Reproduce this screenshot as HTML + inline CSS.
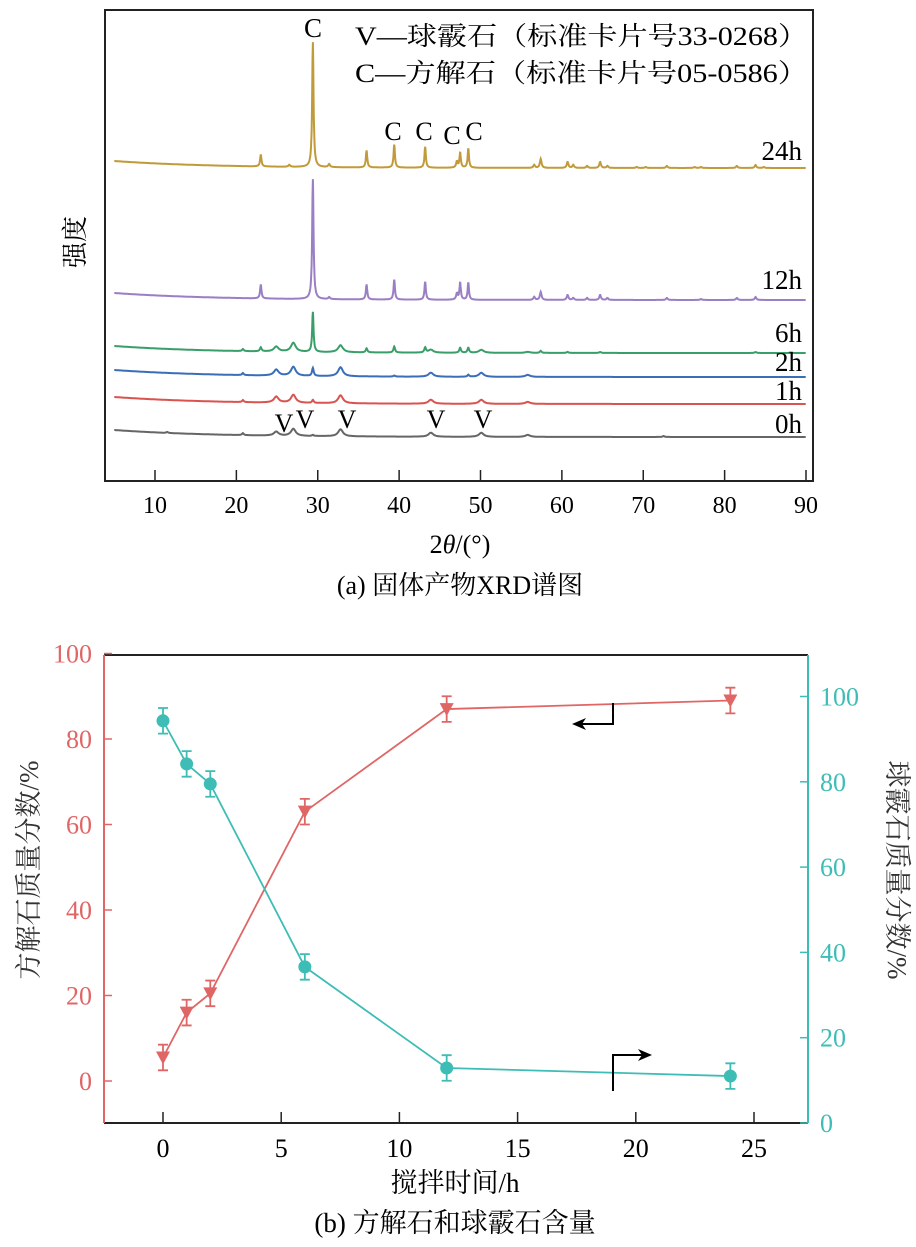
<!DOCTYPE html>
<html><head><meta charset="utf-8"><style>
html,body{margin:0;padding:0;background:#fff;}
svg{display:block;font-family:"Liberation Serif","Noto Serif CJK SC",serif;}
</style></head><body>
<svg id="fig" width="916" height="1247" viewBox="0 0 916 1247">
<g id="top">
 <rect x="105" y="10" width="708" height="471" fill="none" stroke="#222" stroke-width="2"/>
 <g id="xrdTicks"></g>
 <g id="xrdLines"></g>
 <text x="313" y="37" font-size="27" text-anchor="middle">C</text>
 <text x="393" y="140" font-size="26" text-anchor="middle">C</text>
 <text x="424" y="140" font-size="26" text-anchor="middle">C</text>
 <text x="452" y="144" font-size="26" text-anchor="middle">C</text>
 <text x="474" y="140" font-size="26" text-anchor="middle">C</text>
 <text x="284" y="432" font-size="26" text-anchor="middle">V</text>
 <text x="305" y="428" font-size="26" text-anchor="middle">V</text>
 <text x="347" y="428" font-size="26" text-anchor="middle">V</text>
 <text x="436" y="428" font-size="26" text-anchor="middle">V</text>
 <text x="483" y="428" font-size="26" text-anchor="middle">V</text>
 <text x="355" y="45" font-size="26" textLength="453" lengthAdjust="spacingAndGlyphs">V—球霰石（标准卡片号33-0268）</text>
 <text x="355" y="82" font-size="26" textLength="453" lengthAdjust="spacingAndGlyphs">C—方解石（标准卡片号05-0586）</text>
 <text x="802" y="160" font-size="27" text-anchor="end">24h</text>
 <text x="802" y="289" font-size="27" text-anchor="end">12h</text>
 <text x="802" y="342" font-size="27" text-anchor="end">6h</text>
 <text x="802" y="371" font-size="27" text-anchor="end">2h</text>
 <text x="802" y="400" font-size="27" text-anchor="end">1h</text>
 <text x="802" y="433" font-size="27" text-anchor="end">0h</text>
 <text transform="translate(84,242) rotate(-90)" font-size="26" text-anchor="middle">强度</text>
 <text x="460" y="553" font-size="26" text-anchor="middle">2<tspan font-style="italic">θ</tspan>/(°)</text>
 <text x="460" y="594" font-size="26" text-anchor="middle">(a) 固体产物XRD谱图</text>
</g>
<g id="bot">
 <g id="botAxes"></g>
 <g id="botSeries"></g>
 <path d="M613,703 V724 H580" fill="none" stroke="#000" stroke-width="2"/>
 <path d="M572,724 L586,718 L582,724 L586,730 Z" fill="#000"/>
 <path d="M613,1091 V1055 H644" fill="none" stroke="#000" stroke-width="2"/>
 <path d="M652,1055 L638,1049 L642,1055 L638,1061 Z" fill="#000"/>
 <text transform="translate(38,870) rotate(-90)" font-size="27" fill="#333" text-anchor="middle">方解石质量分数/%</text>
 <text transform="translate(888,870) rotate(90)" font-size="27" fill="#333" text-anchor="middle">球霰石质量分数/%</text>
 <text x="455" y="1192" font-size="27" text-anchor="middle">搅拌时间/h</text>
 <text x="455" y="1232" font-size="27" text-anchor="middle">(b) 方解石和球霰石含量</text>
</g>
</svg>
<script>
const NS="http://www.w3.org/2000/svg";
// ---- XRD data ----
const xrdTickLabels=[10,20,30,40,50,60,70,80,90];
const seriesNames=["24h","12h","6h","2h","1h","0h"];
const seriesColors=["#c19a3a","#9a7fc4","#3a9e6a","#3a6fb8","#d9534f","#666666"];
const baseOffsets=[168,300,353,377,404,437];
const peaks24Pos=[23.0,26.5,29.4,31.4,36.0,39.4,43.2,47.1,47.5,48.5,56.6,57.4,60.7,61.4,63.1,64.7,65.6,69.2,70.3,72.9,76.3,77.1,81.5,83.8,84.8];
const peaks24Int=[12,2,125,3,17,23,21,6,15,19,3,9,6,3,2,6,2,1,1,2,1,1,2,3,1];
const peaks12Pos=[23.0,29.4,31.4,36.0,39.4,43.2,47.1,47.5,48.5,56.6,57.4,60.7,61.4,63.1,64.7,65.6,72.9,77.1,81.5,83.8];
const peaks12Int=[14,120,2,15,20,18,6,17,17,3,8,5,2,2,5,2,2,1,2,3];
const peaks6Pos=[20.8,23.0,24.9,27.0,29.4,32.8,36.0,39.4,43.2,43.9,47.5,48.5,50.1,55.8,57.4,60.7,64.7,83.8];
const peaks6Int=[2,4,5,9,40,7,4,6,5,3,5,5,3,1,2,1,1,1];
const peaks2Pos=[20.8,24.9,27.0,29.4,32.8,39.4,43.9,48.5,50.1,55.8];
const peaks2Int=[2,6,9,8,9,1,4,2,4,2];
const peaks1Pos=[20.8,24.9,27.0,29.4,32.8,43.9,50.1,55.8];
const peaks1Int=[2,6,8,3,8,4,4,2];
const peaks0Pos=[11.5,20.8,24.9,27.0,29.4,32.8,43.9,50.1,55.8,72.5];
const peaks0Int=[1,2,4,7,1,7,4,4,2,1];
const allPos=[peaks24Pos,peaks12Pos,peaks6Pos,peaks2Pos,peaks1Pos,peaks0Pos];
const allInt=[peaks24Int,peaks12Int,peaks6Int,peaks2Int,peaks1Int,peaks0Int];
const X0=5,X1=90;
function xX(v){return 155+(v-10)*(651/80);}
const tg=document.getElementById('xrdTicks');
xrdTickLabels.forEach(t=>{
 const x=xX(t);
 const l=document.createElementNS(NS,'line');
 l.setAttribute('x1',x);l.setAttribute('x2',x);l.setAttribute('y1',481);l.setAttribute('y2',470);
 l.setAttribute('stroke','#222');l.setAttribute('stroke-width','1.5');
 
 
 tg.appendChild(l);
 const tx=document.createElementNS(NS,'text');
 tx.setAttribute('x',x);tx.setAttribute('y',513);tx.setAttribute('font-size','24');tx.setAttribute('text-anchor','middle');
 tx.textContent=t;
 
 
 tg.appendChild(tx);
});
const lg=document.getElementById('xrdLines');
seriesNames.forEach((n,i)=>{
 let d="";
 for(let a=X0;a<=X1;a+=0.04){
  let h=0;
  allPos[i].forEach((p,k)=>{
   const w=(allInt[i][k]>=10&&p!==27.0)?0.1:(i>=2&&[24.9,27.0,32.8,43.9,50.1,55.8].includes(p)?0.35:0.12);
   h+=allInt[i][k]/(1+((a-p)/w)**2);
  });
  const bl=baseOffsets[i]-7*Math.exp(-(a-X0)/12);
  d+=(d?"L":"M")+xX(a).toFixed(1)+","+(bl-h).toFixed(1);
 }
 const p=document.createElementNS(NS,'path');
 p.setAttribute('d',d);p.setAttribute('fill','none');p.setAttribute('stroke',seriesColors[i]);p.setAttribute('stroke-width','2');
 
 
 lg.appendChild(p);
});
// ---- Content chart data ----
const times=[0,1,2,6,12,24];
const calcite=[5.5,16,20.5,63,87,89];
const calciteErr=[3,3,3,3,3,3];
const vaterite=[94.3,84.2,79.5,36.6,12.9,11];
const vateriteErr=[3,3,3,3,3,3];
const xTicksB=[0,5,10,15,20,25];
const leftTicks=[0,20,40,60,80,100];
const rightTicks=[0,20,40,60,80,100];
const RED="#e06666",TEAL="#3dbdb5";
function bx(v){return 163+v*(591/25);}
function ly(v){return 1081-v*4.275;}
function ry(v){return 1123-v*4.265;}
const ax=document.getElementById('botAxes');
function mk(tag,attrs,name,parent){const e=document.createElementNS(NS,tag);for(const k in attrs)e.setAttribute(k,attrs[k]);(parent||ax).appendChild(e);return e;}
mk('line',{x1:104,x2:808,y1:655,y2:655,stroke:'#222','stroke-width':2},'top-spine');
mk('line',{x1:104,x2:808,y1:1123,y2:1123,stroke:'#222','stroke-width':2},'x-axis-line');
mk('line',{x1:104,x2:104,y1:655,y2:1123,stroke:RED,'stroke-width':2},'left-y-axis-line');
mk('line',{x1:808,x2:808,y1:655,y2:1123,stroke:TEAL,'stroke-width':2},'right-y-axis-line');
xTicksB.forEach(t=>{
 mk('line',{x1:bx(t),x2:bx(t),y1:1123,y2:1112,stroke:'#222','stroke-width':1.5},'x-tick');
 const e=mk('text',{x:bx(t),y:1157,'font-size':26,'text-anchor':'middle'},'x-tick-label');e.textContent=t;
});
leftTicks.forEach(t=>{
 mk('line',{x1:104,x2:112,y1:ly(t),y2:ly(t),stroke:RED,'stroke-width':1.5},'left-y-tick');
 const e=mk('text',{x:92,y:ly(t)+9,'font-size':26,'text-anchor':'end',fill:RED},'left-y-tick-label');e.textContent=t;
});
rightTicks.forEach(t=>{
 mk('line',{x1:800,x2:808,y1:ry(t),y2:ry(t),stroke:TEAL,'stroke-width':1.5},'right-y-tick');
 const e=mk('text',{x:820,y:ry(t)+9,'font-size':26,fill:TEAL},'right-y-tick-label');e.textContent=t;
});
const sg=document.getElementById('botSeries');
function series(vals,errs,yf,col,name,marker){
 mk('polyline',{points:times.map((t,i)=>bx(t)+","+yf(vals[i])).join(" "),fill:'none',stroke:col,'stroke-width':1.8},name+'-line',sg);
 times.forEach((t,i)=>{
  const x=bx(t),y1=yf(vals[i]+errs[i]),y2=yf(vals[i]-errs[i]);
  mk('path',{d:`M${x},${y1}V${y2}M${x-5},${y1}H${x+5}M${x-5},${y2}H${x+5}`,stroke:col,'stroke-width':1.8,fill:'none'},name+'-error-bar',sg);
  const y=yf(vals[i]);
  if(marker==='tri') mk('path',{d:`M${x-7},${y-6}H${x+7}L${x},${y+7}Z`,fill:col},name+'-point',sg);
  else mk('circle',{cx:x,cy:y,r:6.5,fill:col},name+'-point',sg);
 });
}
series(calcite,calciteErr,ly,RED,'calcite','tri');
series(vaterite,vateriteErr,ry,TEAL,'vaterite','circle');
</script>
</body></html>
